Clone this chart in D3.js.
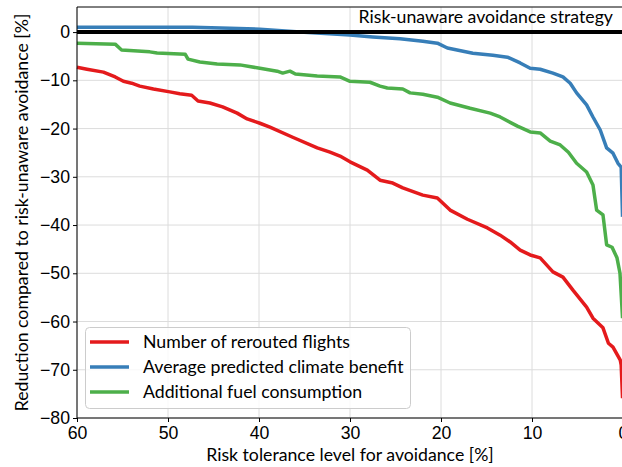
<!DOCTYPE html>
<html>
<head>
<meta charset="utf-8">
<script src="https://cdn.jsdelivr.net/npm/d3@7"></script>
<style>
  body { margin: 0; background: #fff; }
  svg { font-family: Lato, "DejaVu Sans", sans-serif; }
  .grid line { stroke: #dcdcdc; stroke-width: 1; }
  .axis text { font-size: 17.7px; fill: #000; }
  .axis path, .axis line { stroke: #000; }
</style>
</head>
<body>
<div id="chart"></div>
<script>
// Tolerance levels (x) and reductions (y) for each series
const reroutedX = [60, 58.9, 57.1, 55.8, 54.9, 54.0, 53.1, 51.6, 49.8, 48.7, 47.4, 46.7, 45.4, 44.0, 42.4, 41.3, 39.9, 38.8, 36.3, 33.6, 32.2, 31.1, 30.0, 28.1, 26.7, 25.3, 24.2, 22.0, 20.4, 19.0, 17.1, 14.9, 13.5, 12.4, 11.3, 10.2, 9.1, 7.7, 6.6, 5.5, 4.0, 3.3, 2.2, 1.6, 1.1, 0.3, 0.2, 0.05];
const reroutedY = [-7.3, -7.7, -8.3, -9.3, -10.2, -10.6, -11.2, -11.8, -12.4, -12.8, -13.1, -14.3, -14.7, -15.5, -16.8, -18.0, -18.9, -19.7, -21.8, -24.0, -24.9, -25.7, -26.9, -28.6, -30.7, -31.3, -32.3, -33.8, -34.4, -36.9, -38.8, -40.6, -42.1, -43.5, -45.2, -46.2, -46.8, -49.7, -50.8, -53.5, -57.0, -59.3, -61.3, -64.5, -65.3, -68.0, -69.0, -75.9];

const climateX = [60, 47.3, 43.2, 39.9, 35.5, 30.0, 27.5, 24.5, 22.0, 20.4, 19.3, 16.5, 14.3, 12.7, 11.3, 10.2, 9.1, 7.7, 6.6, 5.8, 5.1, 4.0, 3.3, 2.5, 1.8, 1.1, 0.55, 0.2, 0.05];
const climateY = [1.0, 1.0, 0.8, 0.6, 0.0, -0.6, -1.0, -1.4, -1.9, -2.3, -3.3, -4.4, -4.8, -5.2, -6.4, -7.5, -7.7, -8.5, -9.3, -10.6, -12.6, -15.1, -17.6, -20.3, -24.0, -25.1, -27.2, -28.0, -38.3];

const fuelX = [60, 55.8, 55.1, 52.0, 51.2, 48.1, 47.8, 46.5, 44.6, 42.1, 39.9, 38.0, 37.4, 36.6, 36.0, 33.6, 31.1, 30.0, 27.8, 26.7, 25.9, 24.2, 23.4, 22.0, 20.4, 19.0, 16.8, 14.6, 13.5, 11.6, 10.2, 9.1, 8.0, 6.9, 6.0, 5.1, 4.0, 3.3, 2.9, 2.2, 1.8, 1.2, 0.66, 0.33, 0.05];
const fuelY = [-2.3, -2.5, -3.7, -4.1, -4.35, -4.6, -5.6, -6.2, -6.6, -6.8, -7.5, -8.1, -8.5, -8.1, -8.7, -9.1, -9.3, -10.2, -10.4, -11.2, -11.6, -11.8, -12.6, -12.9, -13.5, -14.7, -15.8, -16.8, -17.6, -19.5, -20.7, -20.9, -22.6, -23.4, -24.9, -27.2, -29.0, -31.7, -36.9, -37.9, -44.1, -44.6, -46.8, -50.0, -59.3];

const seriesNames = ["Number of rerouted flights", "Average predicted climate benefit", "Additional fuel consumption"];
const seriesColors = ["#e41a1c", "#377eb8", "#4daf4a"];
const xTicks = [60, 50, 40, 30, 20, 10, 0];
const yTicks = [0, -10, -20, -30, -40, -50, -60, -70, -80];
const baselineLabel = "Risk-unaware avoidance strategy";

const width = 622, height = 467;
const margin = {top: 7, left: 77};
const plotRight = 623, plotBottom = 418;
const fontSize = 17.7;

const svg = d3.select("#chart").append("svg")
  .attr("width", width)
  .attr("height", height);

const x = d3.scaleLinear().domain([60, 0]).range([margin.left, plotRight]);
const y = d3.scaleLinear().domain([-80, 5.2]).range([plotBottom, margin.top]);

// Grid
const grid = svg.append("g").attr("class", "grid");
grid.selectAll(".gx").data(xTicks).join("line")
  .attr("x1", d => x(d)).attr("x2", d => x(d))
  .attr("y1", margin.top).attr("y2", plotBottom);
grid.selectAll(".gy").data(yTicks).join("line")
  .attr("x1", margin.left).attr("x2", plotRight)
  .attr("y1", d => y(d)).attr("y2", d => y(d));

// Series
const series = [
  {xs: reroutedX, ys: reroutedY},
  {xs: climateX, ys: climateY},
  {xs: fuelX, ys: fuelY}
];
const line = d3.line().x(d => x(d[0])).y(d => y(d[1]));

series.forEach((s, i) => {
  svg.append("path")
    .datum(s.xs.map((v, j) => [v, s.ys[j]]))
    .attr("fill", "none")
    .attr("stroke", seriesColors[i])
    .attr("stroke-width", 3.5)
    .attr("stroke-linejoin", "round")
    .attr("d", line);
});

// Reference line at zero
svg.append("line")
  .attr("x1", margin.left).attr("x2", plotRight)
  .attr("y1", y(0)).attr("y2", y(0))
  .attr("stroke", "#000")
  .attr("stroke-width", 4);

svg.append("text")
  .attr("x", 613)
  .attr("y", 23)
  .attr("text-anchor", "end")
  .attr("font-size", fontSize)
  .text(baselineLabel);

// Axes
const fmt = d => d < 0 ? "\u2212" + Math.abs(d) : String(d);

svg.append("g")
  .attr("class", "axis")
  .attr("transform", `translate(0,${plotBottom})`)
  .call(d3.axisBottom(x).tickValues(xTicks).tickFormat(fmt).tickSize(4).tickPadding(4))
  .call(g => g.select(".domain").remove());

svg.append("g")
  .attr("class", "axis")
  .attr("transform", `translate(${margin.left},0)`)
  .call(d3.axisLeft(y).tickValues(yTicks).tickFormat(fmt).tickSize(4).tickPadding(3))
  .call(g => g.select(".domain").remove());

// Spines
svg.append("line").attr("x1", margin.left).attr("x2", margin.left)
  .attr("y1", margin.top).attr("y2", plotBottom).attr("stroke", "#000");
svg.append("line").attr("x1", margin.left).attr("x2", plotRight)
  .attr("y1", plotBottom).attr("y2", plotBottom).attr("stroke", "#000");
svg.append("line").attr("x1", margin.left).attr("x2", plotRight)
  .attr("y1", margin.top).attr("y2", margin.top).attr("stroke", "#000");

// Axis labels
svg.append("text")
  .attr("x", (margin.left + plotRight) / 2)
  .attr("y", 461)
  .attr("text-anchor", "middle")
  .attr("font-size", fontSize)
  .text("Risk tolerance level for avoidance [%]");

svg.append("text")
  .attr("transform", `translate(28,${(margin.top + plotBottom) / 2}) rotate(-90)`)
  .attr("text-anchor", "middle")
  .attr("font-size", fontSize)
  .text("Reduction compared to risk-unaware avoidance [%]");

// Legend
const legend = svg.append("g").attr("transform", "translate(85,327)");
legend.append("rect")
  .attr("x", 0.5).attr("y", 0.5)
  .attr("width", 325).attr("height", 81)
  .attr("rx", 4)
  .attr("fill", "#fff").attr("fill-opacity", 0.8)
  .attr("stroke", "#cccccc");

seriesNames.forEach((name, i) => {
  const cy = 15 + i * 25;
  legend.append("line")
    .attr("x1", 5).attr("x2", 44)
    .attr("y1", cy).attr("y2", cy)
    .attr("stroke", seriesColors[i])
    .attr("stroke-width", 3.5);
  legend.append("text")
    .attr("x", 58).attr("y", cy + 6)
    .attr("font-size", fontSize)
    .text(name);
});
</script>
</body>
</html>
